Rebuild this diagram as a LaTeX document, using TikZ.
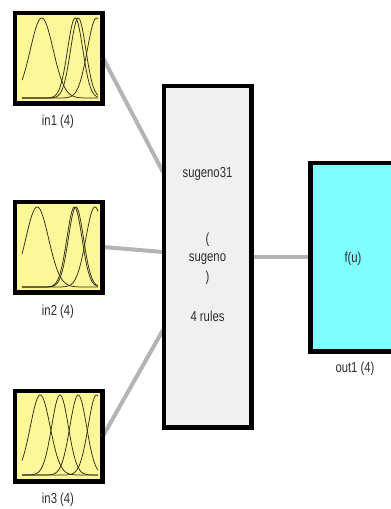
\documentclass[tikz,border=0pt]{standalone}
\usepackage{fontspec}
\setmainfont{Liberation Sans}
\usepackage{graphicx}
\definecolor{mfyellow}{RGB}{252,248,154}
\definecolor{sysgray}{RGB}{240,240,240}
\definecolor{outcyan}{RGB}{128,255,255}
\definecolor{wire}{RGB}{180,180,180}
\definecolor{txt}{RGB}{45,45,45}
\definecolor{curve}{RGB}{50,45,20}
\newcommand\lbl[1]{\scalebox{0.78}[1]{\fontsize{14.5}{16}\selectfont #1}}
\newcommand\mfbells[3]{%
  \foreach \m/\s in {#3}{%
    \draw[curve, line width=0.75pt] plot[domain=0:1, samples=80, smooth]
      ({#1 + 76*\x}, {#2 - 80*exp(-((\x-\m)*(\x-\m))/(2*\s*\s))});
  }%
}
\begin{document}
\begin{tikzpicture}[x=1pt, y=-1pt,
  inbox/.style={draw=black, line width=3pt, fill=mfyellow, minimum width=86pt, minimum height=89pt, inner sep=0pt},
  sysbox/.style={draw=black, line width=3pt, fill=sysgray, minimum width=86pt, minimum height=340pt, inner sep=0pt},
  outbox/.style={draw=black, line width=3pt, fill=outcyan, minimum width=86pt, minimum height=187pt, inner sep=0pt},
  lab/.style={text=txt, inner sep=0pt},
  conn/.style={draw=wire, line width=4pt}
]
\useasboundingbox (0,0) rectangle (391,509);
\fill[white] (0,0) rectangle (391,509);

\node[sysbox] (sys) at (207.5,256.5) {};
\node[inbox] (in1) at (58.5,58) {};
\node[inbox] (in2) at (58.5,247) {};
\node[inbox] (in3) at (58.5,436) {};
\node[outbox] (out) at (354,257) {};

\coordinate (s1) at ([yshift=84.5pt]sys.west);
\coordinate (s2) at ([yshift=4.5pt]sys.west);
\coordinate (s3) at ([yshift=-73.5pt]sys.west);
\draw[conn] (in1.east) -- (s1);
\draw[conn] (in2.east) -- (s2);
\draw[conn] (in3.east) -- (s3);
\draw[conn] (sys.east) -- (sys.east -| out.west);

% borders over wire ends
\draw[black, line width=3pt] (sys.south west) rectangle (sys.north east);
\draw[black, line width=3pt] (in1.south west) rectangle (in1.north east);
\draw[black, line width=3pt] (in2.south west) rectangle (in2.north east);
\draw[black, line width=3pt] (in3.south west) rectangle (in3.north east);
\draw[black, line width=3pt] (out.south west) rectangle (out.north east);

% membership functions
\mfbells{22}{98}{0.26/0.15, 0.70/0.10, 0.74/0.10, 0.98/0.12}
\mfbells{22}{287}{0.20/0.15, 0.69/0.10, 0.71/0.10, 0.96/0.12}
\mfbells{22}{475}{0.24/0.13, 0.50/0.11, 0.74/0.11, 0.98/0.11}

% labels
\node[lab] (l1) at (58,122) {\lbl{in1 (4)}};
\node[lab] (l2) at (58,312) {\lbl{in2 (4)}};
\node[lab] (l3) at (58,500) {\lbl{in3 (4)}};
\node[lab] (t1) at (207.5,174) {\lbl{sugeno31}};
\node[lab] (t2) at (207.5,240) {\lbl{(}};
\node[lab] (t3) at (207.5,259) {\lbl{sugeno}};
\node[lab] (t4) at (207.5,278) {\lbl{)}};
\node[lab] (t5) at (207.5,316) {\lbl{4 rules}};
\node[lab] (fu) at (353,259) {\lbl{f(u)}};
\node[lab] (lo) at (355,369) {\lbl{out1 (4)}};
\end{tikzpicture}
\end{document}
